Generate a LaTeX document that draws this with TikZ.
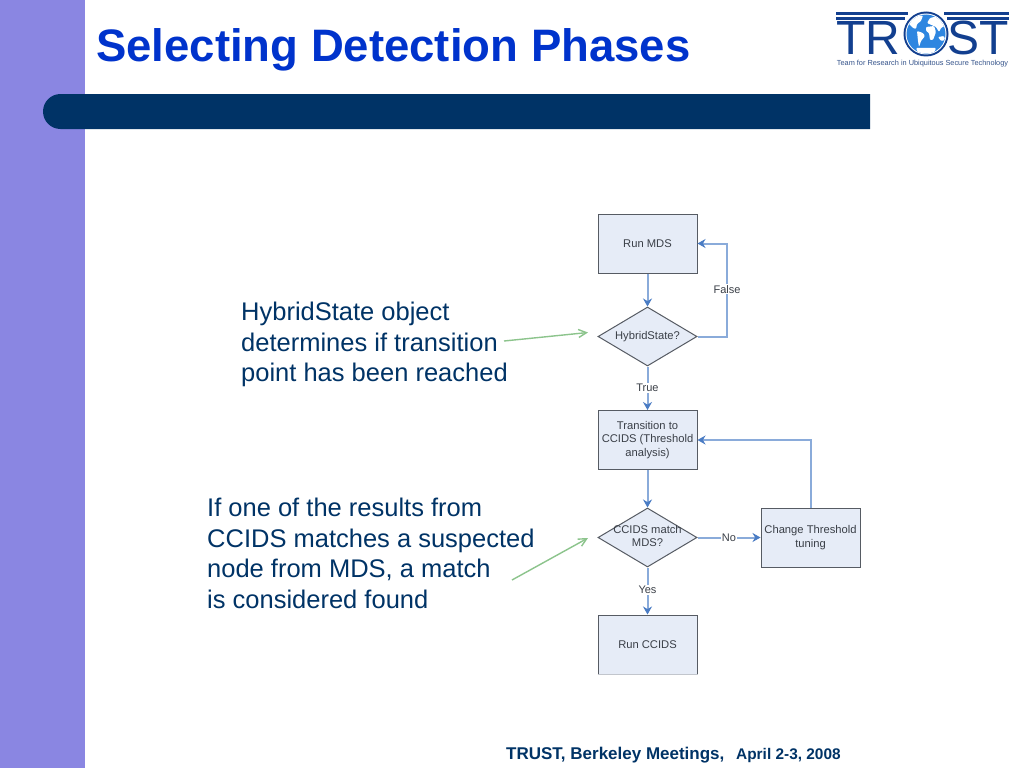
\documentclass[tikz,border=0pt]{standalone}
\usepackage{fontspec}
\setmainfont{Liberation Sans}
\usetikzlibrary{arrows.meta,shapes.geometric}
\definecolor{band}{HTML}{8A86E2}
\definecolor{navy}{HTML}{003366}
\definecolor{titleblue}{HTML}{0033CC}
\definecolor{flowfill}{HTML}{E6ECF7}
\definecolor{flowedge}{HTML}{565B63}
\definecolor{flowline}{HTML}{8AABDA}
\definecolor{flowtip}{HTML}{4A7CC4}
\definecolor{flowtext}{HTML}{3A3F47}
\definecolor{calloutgreen}{HTML}{8CC48C}
\definecolor{logoblue}{HTML}{123F8F}
\definecolor{globeblue}{HTML}{2E86E0}
\tikzset{
  x=1pt,y=-1pt,
  flowbox/.style={draw=flowedge,line width=1pt,fill=flowfill,minimum width=99pt,minimum height=59pt,inner sep=1pt,align=center,text=flowtext,font=\fontsize{11.2}{13.5}\selectfont},
  flowdiamond/.style={flowbox,diamond,aspect=1.68,minimum width=99pt,minimum height=59pt,inner sep=0pt},
  flowarrow/.style={draw=flowline,line width=2pt,-{Stealth[length=8pt,width=9pt,color=flowtip]}},
  flowlabel/.style={fill=white,inner sep=1pt,text=flowtext,font=\fontsize{11}{12}\selectfont},
  callout/.style={draw=calloutgreen,line width=1.4pt,-{Straight Barb[length=8pt,width=8pt]}},
  bodytext/.style={anchor=north west,align=left,inner sep=0pt,text=navy,font=\fontsize{25.5}{30.6}\selectfont},
  logoletter/.style={inner sep=0pt,anchor=base west,text=logoblue,font=\fontsize{48}{48}\selectfont},
  land/.style={fill=white,draw=none,rounded corners=1pt}
}
\begin{document}
\begin{tikzpicture}
\useasboundingbox (0,0) rectangle (1024,768);
\fill[white] (0,0) rectangle (1024,768);
\fill[band] (0,0) rectangle (85,768);
\fill[navy] (870,94) -- (60.5,94) arc[start angle=-90,end angle=-270,radius=17.5] -- (870,129) -- cycle;
\node[anchor=base west,inner sep=0pt,text=titleblue,font=\bfseries\fontsize{45.5}{45.5}\selectfont] (title) at (96,61) {Selecting Detection Phases};

% logo
\fill[logoblue] (836,12) rectangle (908,15.5);
\fill[logoblue] (944,12) rectangle (1009,15.5);
\fill[logoblue] (836,17.5) rectangle (905,20.5);
\fill[logoblue] (947,17.5) rectangle (1009,20.5);
\node[logoletter] (logoTR) at (836,55) {TR};
\node[logoletter] (logoST) at (947,55) {ST};
\fill[white] (926,34) circle (24.5);
\fill[logoblue] (926,34) circle (22.5);
\fill[white] (926,34) circle (20.5);
\fill[globeblue] (926,34) circle (19.5);
\begin{scope}
\clip (926,34) circle (19.5);
% North America
\fill[land] (908,21) -- (914,16) -- (923,15.5) -- (921,21) -- (917,24) -- (916,29) -- (913,28) -- (909,24) -- cycle;
% South America
\fill[land] (917,31) -- (923,33) -- (925,36) -- (921,41) -- (919,47) -- (918,41) -- cycle;
% Eurasia
\fill[land] (927,23) -- (930,18) -- (938,16) -- (945,20) -- (946,25) -- (941,28) -- (939,32) -- (936,27) -- cycle;
% Africa
\fill[land] (926,27) -- (934,26) -- (936,32) -- (933,40) -- (930,40) -- (929,33) -- (926,31) -- cycle;
% Australia
\fill[land] (938,37) -- (944,36) -- (945,40) -- (941,41) -- cycle;
% Antarctica
\fill[land] (916,48) -- (936,48) -- (934,53) -- (918,53) -- cycle;
\end{scope}
\node[anchor=base,inner sep=0pt,text=logoblue!70!gray,font=\fontsize{7.35}{8}\selectfont] (tagline) at (922.5,65.3) {Team for Research in Ubiquitous Secure Technology};

% flowchart
\node[flowbox] (runmds) at (647.5,243.5) {Run MDS};
\node[flowdiamond] (hybrid) at (647.5,336.5) {HybridState?};
\node[flowbox] (trans) at (647.5,440) {Transition to\\CCIDS (Threshold\\analysis)};
\node[flowdiamond] (match) at (647.5,537.5) {};
\node[text=flowtext,align=center,font=\fontsize{11.2}{13.5}\selectfont,inner sep=0pt] (matchtext) at (647.5,536) {CCIDS match\\MDS?};
\node[flowbox] (change) at (810.5,537.5) {Change Threshold\\tuning};
\node[flowbox] (runccids) at (647.5,644.5) {Run CCIDS};
\draw[flowfill!65!gray,line width=1.6pt] (runccids.south west) -- (runccids.south east);

\draw[flowarrow] (runmds) -- (hybrid);
\draw[flowarrow] (hybrid.east) -- (727,336.5) -- node[flowlabel,pos=0.51] {False} (727,243.5) -- (runmds.east);
\draw[flowarrow] (hybrid) -- node[flowlabel,pos=0.5] {True} (trans);
\draw[flowarrow] (trans) -- (match);
\draw[flowarrow] (match) -- node[flowlabel,pos=0.5] {No} (change);
\draw[flowarrow] (change.north) -- (810.5,440) -- (trans.east);
\draw[flowarrow] (match) -- node[flowlabel,pos=0.48] {Yes} (runccids);

% callouts
\node[bodytext] (note1) at (241,302) {HybridState object\\determines if transition\\point has been reached};
\node[bodytext] (note2) at (207,498) {If one of the results from\\CCIDS matches a suspected\\node from MDS, a match\\is considered found};
\coordinate (c1a) at (504,341);
\coordinate (c1b) at (588,332.5);
\coordinate (c2a) at (512,580);
\coordinate (c2b) at (588,538);
\draw[callout] (c1a) -- (c1b);
\draw[callout] (c2a) -- (c2b);

% footer
\node[anchor=base west,inner sep=0pt,text=navy,font=\bfseries\fontsize{17}{17}\selectfont] (foot1) at (506,759) {TRUST, Berkeley Meetings,};
\node[anchor=base west,inner sep=0pt,text=navy,font=\bfseries\fontsize{15.4}{15.4}\selectfont] (foot2) at (736,759) {April 2-3, 2008};
\end{tikzpicture}
\end{document}
